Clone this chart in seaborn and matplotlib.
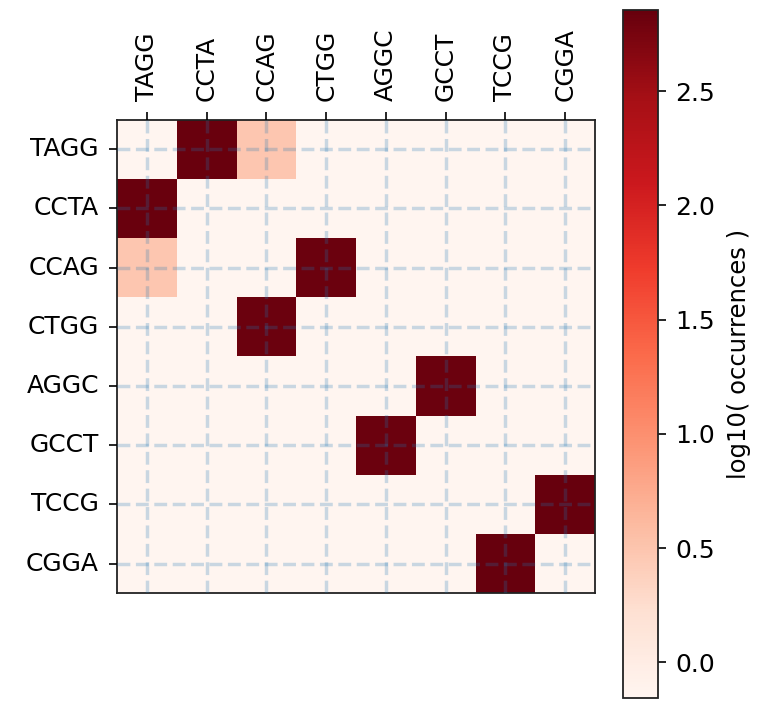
import numpy as np
import pandas as pd
import seaborn as sns
import matplotlib.pyplot as plt

# k-mers (rows and columns share the same order)
kmers = ['TAGG', 'CCTA', 'CCAG', 'CTGG', 'AGGC', 'GCCT', 'TCCG', 'CGGA']

# log10 of occurrence counts
BG = -0.155   # empty cells
LO = 0.48     # the pale pair
log_counts = [
    [BG,   2.84, LO,   BG,   BG,   BG,   BG,   BG],
    [2.84, BG,   BG,   BG,   BG,   BG,   BG,   BG],
    [LO,   BG,   BG,   2.82, BG,   BG,   BG,   BG],
    [BG,   BG,   2.82, BG,   BG,   BG,   BG,   BG],
    [BG,   BG,   BG,   BG,   BG,   2.83, BG,   BG],
    [BG,   BG,   BG,   BG,   2.83, BG,   BG,   BG],
    [BG,   BG,   BG,   BG,   BG,   BG,   BG,   2.855],
    [BG,   BG,   BG,   BG,   BG,   BG,   2.855, BG],
]

df = pd.DataFrame(np.array(log_counts), index=kmers, columns=kmers)

fig = plt.figure(figsize=(7.8, 7.2), dpi=100)
ax = fig.add_axes([0.150, 0.176, 0.613, 0.658])
cax = fig.add_axes([0.799, 0.031, 0.044, 0.955])

sns.heatmap(df, cmap='Reds', ax=ax, cbar_ax=cax,
            cbar_kws={'label': 'log10( occurrences )'})

# ticks on top, like imshow + tick_top
ax.xaxis.tick_top()
ax.set_xticks(np.arange(len(kmers)) + 0.5)
ax.set_xticklabels(kmers, rotation=90, fontsize=18)
ax.set_yticks(np.arange(len(kmers)) + 0.5)
ax.set_yticklabels(kmers, rotation=0, fontsize=18)
ax.tick_params(axis='both', length=6, width=1.2, pad=7)

# dashed grid through the cell centres
ax.grid(True, linestyle='--', linewidth=2.5, color='C0', alpha=0.24)
ax.set_axisbelow(False)

for sp in ax.spines.values():
    sp.set_visible(True)
    sp.set_linewidth(1.3)
    sp.set_color('#222222')

cbar = ax.collections[0].colorbar
cbar.outline.set_visible(True)
cbar.outline.set_linewidth(1.3)
cbar.outline.set_edgecolor('#222222')
cbar.set_ticks([0.0, 0.5, 1.0, 1.5, 2.0, 2.5])
cbar.ax.tick_params(labelsize=18, length=6, width=1.2, pad=7)
cbar.set_label('log10( occurrences )', fontsize=17.5, labelpad=8)

fig.savefig('out.png', dpi=100)
